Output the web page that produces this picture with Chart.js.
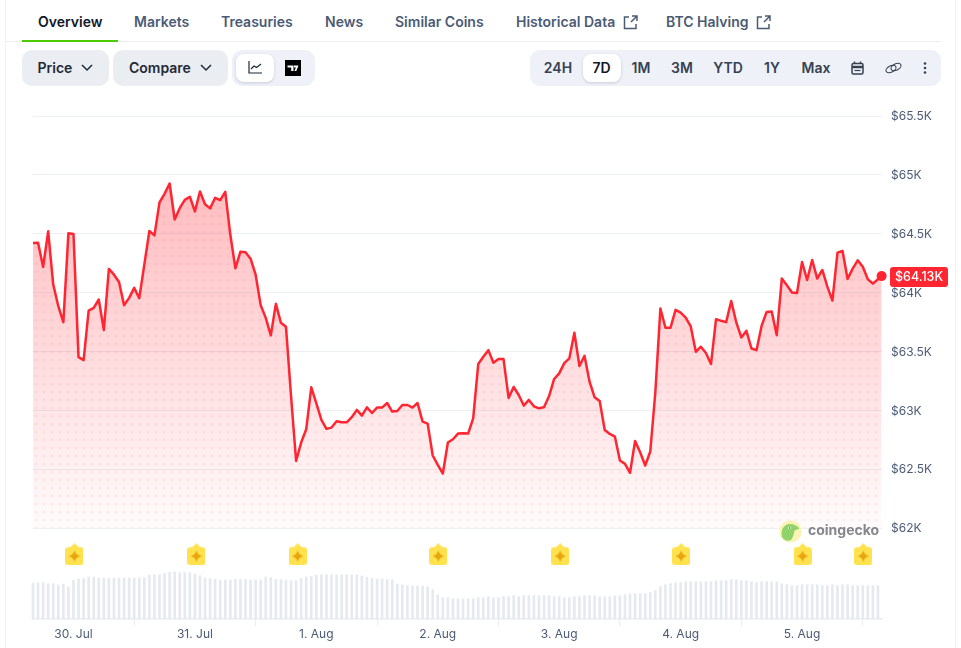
<!DOCTYPE html>
<html>
<head>
<meta charset="utf-8">
<title>BTC 7D price chart</title>
<script src="https://cdn.jsdelivr.net/npm/chart.js@4"></script>
<style>
  html, body { margin: 0; padding: 0; background: #fff; overflow: hidden; }
  body { width: 961px; height: 648px; position: relative; font-family: Inter, sans-serif; }
  #chart { position: absolute; left: 0; top: 0; }
  .abs { position: absolute; }
  .tab { position: absolute; top: 13px; line-height: 18px; font-size: 14px; font-weight: 600; color: #4b5b75; white-space: nowrap; }
  .tab.on { color: #111827; }
  .pill { position: absolute; top: 50px; height: 36px; border-radius: 10px; }
  .btn { background: #eaedf1; line-height: 36px; font-size: 14px; font-weight: 600; color: #1f2937; }
  .grp { background: #eef1f8; }
  .white { position: absolute; top: 54px; height: 28px; width: 38px; background: #fff; border-radius: 8px; box-shadow: 0 1px 3px rgba(30,40,60,.18); }
  .rng { position: absolute; top: 50px; line-height: 36px; font-size: 14px; font-weight: 600; color: #364152; transform: translateX(-50%); white-space: nowrap; }
  .rng.on { color: #111827; }
  svg { position: absolute; overflow: visible; }
</style>
</head>
<body>
<div class="abs" style="left:5px;top:0;width:1px;height:648px;background:#f1f2f4"></div>
<div class="abs" style="left:955px;top:0;width:1px;height:648px;background:#f1f2f4"></div>
<div class="abs" style="left:6px;top:41px;width:935px;height:1px;background:#eceef1"></div>
<div class="abs" style="left:22px;top:40px;width:96px;height:2px;background:#4bcc00"></div>

<div class="tab on" style="left:38px">Overview</div>
<div class="tab" style="left:134px">Markets</div>
<div class="tab" style="left:221px">Treasuries</div>
<div class="tab" style="left:325px">News</div>
<div class="tab" style="left:395px">Similar Coins</div>
<div class="tab" style="left:516px">Historical Data</div>
<div class="tab" style="left:666px">BTC Halving</div>
<svg style="left:623px;top:15px" width="15" height="15" viewBox="0 0 15 15" fill="none" stroke="#4b5b75" stroke-width="1.5"><path d="M6 2H1.500v11.500H13V9M8 7l5.500-5.500M9 1h5v5"/></svg>
<svg style="left:756px;top:15px" width="15" height="15" viewBox="0 0 15 15" fill="none" stroke="#4b5b75" stroke-width="1.5"><path d="M6 2H1.500v11.500H13V9M8 7l5.500-5.500M9 1h5v5"/></svg>

<div class="pill btn" style="left:22px;width:87px"><span class="abs" style="left:15.5px">Price</span></div>
<svg style="left:81px;top:64px" width="12" height="8" viewBox="0 0 12 8" fill="none" stroke="#1f2937" stroke-width="1.5"><path d="M1 1l5 5 5-5"/></svg>
<div class="pill btn" style="left:113px;width:115px"><span class="abs" style="left:16px">Compare</span></div>
<svg style="left:200px;top:64px" width="12" height="8" viewBox="0 0 12 8" fill="none" stroke="#1f2937" stroke-width="1.5"><path d="M1 1l5 5 5-5"/></svg>

<div class="pill grp" style="left:232px;width:83px"></div>
<div class="white" style="left:236px"></div>
<svg style="left:248px;top:60px" width="14" height="14" viewBox="0 0 14 14" fill="none" stroke="#1f2937" stroke-width="1.2"><path d="M1 1v12h13M3 9l3-3 2.500 1.500L13 4"/></svg>
<svg style="left:285px;top:60px" width="16" height="16" viewBox="0 0 16 16"><rect width="16" height="16" fill="#000"/><path d="M2.500 5.500h6v5.500H6.200V7.500H2.500zM9 5.500h4.500L11.300 11H9.400l1.500-3.500H9z" fill="#fff"/></svg>

<div class="pill grp" style="left:530px;width:411px"></div>
<div class="white" style="left:583px"></div>
<div class="rng" style="left:558px">24H</div>
<div class="rng on" style="left:601.5px">7D</div>
<div class="rng" style="left:641px">1M</div>
<div class="rng" style="left:682px">3M</div>
<div class="rng" style="left:728px">YTD</div>
<div class="rng" style="left:772px">1Y</div>
<div class="rng" style="left:816px">Max</div>
<svg style="left:851px;top:61px" width="13" height="14" viewBox="0 0 13 14" fill="none" stroke="#364152" stroke-width="1.5"><rect x="1" y="2.500" width="11" height="10.500" rx="1.500"/><path d="M1 6h11" stroke-width="2.500"/><path d="M3.500 0.500v2M9.500 0.500v2"/><path d="M3.500 9.500h6" stroke-width="1.200"/></svg>
<svg style="left:885px;top:62px" width="17" height="12" viewBox="0 0 17 12" fill="none" stroke="#364152" stroke-width="1.100"><ellipse cx="6" cy="7" rx="5.400" ry="3.200" transform="rotate(-28 6 7)"/><ellipse cx="11" cy="5" rx="5.400" ry="3.200" transform="rotate(-28 11 5)"/></svg>
<svg style="left:923px;top:62px" width="4" height="12" viewBox="0 0 4 12" fill="#364152"><circle cx="2" cy="1.500" r="1.300"/><circle cx="2" cy="6" r="1.300"/><circle cx="2" cy="10.500" r="1.300"/></svg>

<canvas id="chart" width="961" height="648"></canvas>

<svg style="left:779px;top:520px;width:23px;height:23px" viewBox="0 0 23 23"><circle cx="11.500" cy="11.500" r="11" fill="#fbf3b4"/><path d="M3 17C1.500 9.500 5 4 11 4c3.500 0 7 1.500 9.500 4.500l-5 2c-.5 3-1 6-3.500 9.500-3.500 1.500-7 .5-9-3z" fill="#8fd36a"/><circle cx="10.500" cy="8" r="1.300" fill="#fff"/><circle cx="10.500" cy="8" r=".7" fill="#444"/></svg>
<div class="abs" style="left:808px;top:521px;font-size:14px;line-height:18px;font-weight:700;color:#85878c">coingecko</div>

<script>
  // hourly closes, last entry is the live price
  const prices = [
    64421, 64424, 64217, 64520, 64068, 63884, 63749, 64503, 64497, 63452, 63426, 63847,
    63870, 63941, 63681, 64201, 64152, 64090, 63893, 63955, 64040, 63952, 64237, 64523,
    64486, 64766, 64839, 64927, 64621, 64717, 64788, 64814, 64689, 64859, 64751, 64715,
    64805, 64785, 64856, 64491, 64206, 64347, 64342, 64288, 64152, 63893, 63785, 63636,
    63904, 63743, 63709, 63121, 62570, 62726, 62839, 63195, 63059, 62918, 62842, 62853,
    62907, 62898, 62898, 62941, 63003, 62955, 63025, 62977, 63023, 63023, 63062, 62989,
    62994, 63045, 63045, 63023, 63062, 62904, 62887, 62616, 62537, 62463, 62726, 62754,
    62802, 62805, 62802, 62932, 63393, 63455, 63511, 63404, 63435, 63435, 63105, 63198,
    63130, 63040, 63088, 63034, 63017, 63025, 63121, 63266, 63314, 63401, 63441, 63658,
    63376, 63463, 63243, 63110, 63079, 62833, 62799, 62777, 62573, 62545, 62469, 62740,
    62644, 62531, 62650, 63152, 63864, 63701, 63701, 63853, 63830, 63788, 63712, 63497,
    63540, 63486, 63393, 63774, 63760, 63749, 63929, 63746, 63619, 63675, 63525, 63511,
    63717, 63836, 63839, 63638, 64119, 64062, 64000, 63997, 64260, 64107, 64277, 64119,
    64192, 64051, 63932, 64339, 64353, 64116, 64203, 64274, 64220, 64113, 64076, 64113,
    64140
  ];
  const volumes = [
    108, 109, 109, 106, 106, 102, 105, 96, 116, 120, 121, 126, 126, 123, 123, 123, 123, 123, 123, 123,
    123, 123, 124, 131, 133, 133, 137, 140, 141, 139, 139, 139, 135, 130, 123, 121, 119, 116, 117, 117,
    119, 119, 119, 117, 117, 117, 126, 124, 119, 118, 116, 115, 115, 122, 126, 128, 132, 133, 133, 133,
    133, 133, 133, 133, 132, 129, 125, 122, 120, 120, 118, 118, 105, 102, 100, 99, 99, 99, 96, 88,
    73, 64, 64, 61, 61, 61, 61, 61, 64, 64, 67, 64, 64, 67, 67, 70, 67, 70, 70, 70,
    70, 70, 70, 67, 67, 64, 64, 67, 67, 70, 70, 70, 67, 67, 67, 70, 70, 73, 76, 76,
    76, 76, 79, 85, 97, 103, 106, 109, 109, 112, 112, 112, 112, 112, 112, 115, 115, 115, 118, 118,
    115, 115, 112, 109, 112, 112, 112, 112, 106, 103, 100, 100, 103, 103, 103, 103, 100, 100, 103, 100,
    103, 103, 100, 100, 100, 100, 100, 100
  ];
  const lastHour = 167.72;
  const lastLabel = '$64.13K';
  const priceTicks = [65500, 65000, 64500, 64000, 63500, 63000, 62500, 62000];
  const dayHours = [8, 32, 56, 80, 104, 128, 152];
  const dayLabels = ['30. Jul', '31. Jul', '1. Aug', '2. Aug', '3. Aug', '4. Aug', '5. Aug'];
  const eventHours = [8.2, 32.3, 52.3, 80.1, 104.2, 128.1, 152.1, 164.1];
  const eventLevel = 61778;

  const hourOf = i => (i < prices.length - 1 ? i : lastHour);
  const priceData = prices.map((p, i) => ({ x: hourOf(i), y: p }));
  const volumeData = volumes.map((v, i) => ({ x: i, y: v }));
  const eventData = eventHours.map(h => ({ x: h, y: eventLevel }));

  const RED = '#ff2632';
  const INK = '#4b5b75';
  const LINE = '#e9edf2';

  // yellow flag used for the event markers
  function makeFlag() {
    const c = document.createElement('canvas');
    c.width = 18; c.height = 22;
    const g = c.getContext('2d');
    g.fillStyle = '#ffe24d';
    g.beginPath();
    g.roundRect(0, 4, 18, 18, 3);
    g.fill();
    g.beginPath();
    g.moveTo(5, 4); g.lineTo(9, 0); g.lineTo(13, 4);
    g.fill();
    g.fillStyle = '#e8a50f';
    g.beginPath();
    g.moveTo(9, 7); g.quadraticCurveTo(10, 12, 15, 13);
    g.quadraticCurveTo(10, 14, 9, 19);
    g.quadraticCurveTo(8, 14, 3, 13);
    g.quadraticCurveTo(8, 12, 9, 7);
    g.fill();
    return c;
  }

  // faint dots over the area fill
  function makeDots() {
    const c = document.createElement('canvas');
    c.width = 8; c.height = 8;
    const g = c.getContext('2d');
    g.fillStyle = 'rgba(255,50,60,0.075)';
    g.beginPath();
    g.arc(4, 4, 1.6, 0, Math.PI * 2);
    g.fill();
    const pat = g.createPattern(c, 'repeat');
    pat.setTransform(new DOMMatrix().translate(0, 4));
    return pat;
  }

  function areaFill(context) {
    const { chart } = context;
    if (!chart.chartArea) return 'rgba(255,38,50,0.2)';
    const y = chart.scales.y;
    const grad = chart.ctx.createLinearGradient(0, y.getPixelForValue(Math.max(...prices)), 0, y.getPixelForValue(62000));
    grad.addColorStop(0, 'rgba(255,38,50,0.31)');
    grad.addColorStop(1, 'rgba(255,38,50,0.015)');
    return grad;
  }

  const priceTag = {
    id: 'priceTag',
    afterDraw(chart) {
      const { ctx, chartArea, scales } = chart;
      const y = scales.y.getPixelForValue(prices[prices.length - 1]) + 1;
      const x = chartArea.right + 8;
      ctx.save();
      ctx.fillStyle = RED;
      ctx.beginPath();
      ctx.roundRect(x, y - 10, 58, 20, 3);
      ctx.fill();
      ctx.fillStyle = '#fff';
      ctx.font = '500 12.5px Inter, sans-serif';
      ctx.textAlign = 'center';
      ctx.textBaseline = 'middle';
      ctx.fillText(lastLabel, x + 29, y + 0.5);
      ctx.restore();
    }
  };

  const lastIndex = prices.length - 1;
  new Chart(document.getElementById('chart'), {
    data: {
      datasets: [
        {
          type: 'line', data: priceData, order: 1, borderColor: RED, borderWidth: 2.5, tension: 0,
          borderJoinStyle: 'round', fill: { value: 62000 }, backgroundColor: areaFill, clip: false,
          pointRadius: c => (c.dataIndex === lastIndex ? 5 : 0), pointBackgroundColor: RED, pointBorderWidth: 0
        },
        {
          type: 'line', data: priceData, order: 2, borderWidth: 0, tension: 0, pointRadius: 0,
          fill: { value: 62000 }, backgroundColor: makeDots()
        },
        {
          type: 'bar', data: volumeData, yAxisID: 'yVol', order: 3, backgroundColor: '#e6eaf0', barThickness: 2, clip: false
        },
        {
          type: 'line', data: eventData, order: 0, showLine: false, clip: false,
          pointStyle: makeFlag(), pointRadius: 9
        }
      ]
    },
    options: {
      responsive: false,
      animation: false,
      events: [],
      layout: { padding: { left: 33, right: 0, top: 116, bottom: 0 } },
      plugins: { legend: { display: false }, tooltip: { enabled: false } },
      scales: {
        x: {
          type: 'linear', min: 0, max: 167.8, offset: false,
          afterBuildTicks(s) { s.ticks = dayHours.map(v => ({ value: v })); },
          afterFit(s) { s.height = 29; },
          grid: { drawOnChartArea: false, tickLength: 7, tickColor: LINE },
          border: { color: LINE, width: 1.5 },
          ticks: {
            autoSkip: false, maxRotation: 0, padding: 1, color: INK,
            font: { family: 'Inter', size: 12 },
            callback: v => dayLabels[dayHours.indexOf(v)]
          }
        },
        y: {
          position: 'right', min: 61227, max: 65500,
          afterBuildTicks(s) { s.ticks = priceTicks.map(v => ({ value: v })); },
          afterFit(s) { s.width = 79; },
          grid: { color: '#eceff3', drawTicks: false },
          border: { display: false },
          ticks: {
            padding: 9, labelOffset: 0.7, color: INK, font: { family: 'Inter', size: 12 },
            callback: v => '$' + v / 1000 + 'K'
          }
        },
        yVol: { display: false, min: 0, max: 1509 }
      }
    },
    plugins: [priceTag]
  });
</script>
</body>
</html>
